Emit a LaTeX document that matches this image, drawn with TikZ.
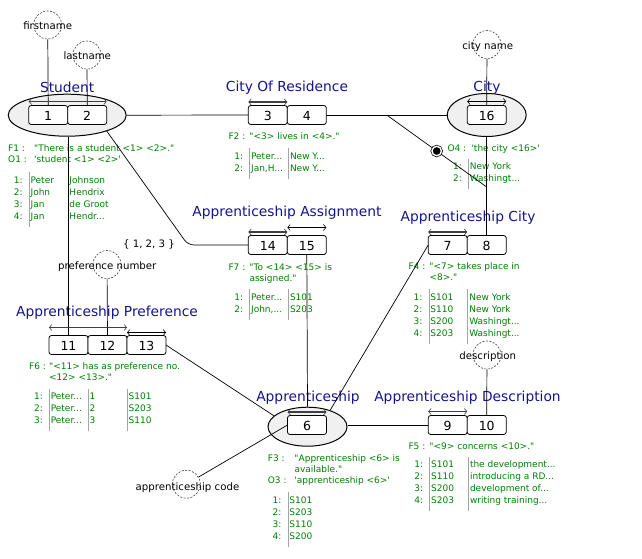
\documentclass[tikz,border=0pt]{standalone}
\usepackage{fontspec}
\usepackage{array}
\usepackage{tikz}
\usetikzlibrary{shapes.geometric}
\usetikzlibrary{positioning}
\usetikzlibrary{arrows.meta}
\newfontfamily\uifont{DejaVu Sans}
\definecolor{typeblue}{RGB}{20,20,140}
\definecolor{factgreen}{RGB}{0,128,0}
\definecolor{entfill}{RGB}{240,240,240}
\definecolor{rulegray}{RGB}{165,165,165}
\newcolumntype{N}{@{}>{\raggedleft\arraybackslash}p{11pt}@{\hspace{6pt}{\color{rulegray}\vrule}\hspace{1.5pt}}}
\newcolumntype{D}{p{37pt}}
\newcolumntype{V}{@{{\color{rulegray}\vrule}\hspace{1.5pt}}}
\newcommand{\rtop}{\rule{0pt}{11pt}}
\newcommand{\rbot}{\rule[-7.5pt]{0pt}{7.5pt}}
\tikzset{
    entnode/.style = {ellipse, draw=black, line width=1pt, fill=entfill, inner sep=0pt},
    rolenode/.style = {rectangle, rounded corners=2.5pt, draw=black, line width=0.8pt, fill=white, minimum width=39pt, minimum height=19pt, inner sep=0pt, outer sep=0pt, text height=11pt, text depth=0pt, font=\uifont\fontsize{12.5}{12.5}\selectfont},
    valnode/.style = {circle, draw=black!75, dash pattern=on 2pt off 1.5pt, line width=0.6pt, minimum size=28pt, inner sep=0pt},
    vallbl/.style = {anchor=base, inner sep=0pt, text=black, font=\uifont\fontsize{10.2}{12}\selectfont},
    o4node/.style = {circle, fill=black, draw=black, double=white, double distance=1.4pt, line width=0.7pt, minimum size=9.5pt, inner sep=0pt},
    namelbl/.style = {anchor=base, inner sep=0pt, text=typeblue, font=\uifont\fontsize{13.8}{16}\selectfont},
    factlbl/.style = {anchor=base west, inner sep=0pt, text=factgreen, font=\uifont\fontsize{9}{11}\selectfont},
    poplbl/.style = {anchor=base west, inner sep=0pt, text=factgreen, font=\uifont\fontsize{9}{12}\selectfont},
    edgen/.style = {-, line width=0.7pt, black},
    edgeu/.style = {{Straight Barb[length=2.5pt,width=6pt,line width=0.6pt]}-{Straight Barb[length=2.5pt,width=6pt,line width=0.6pt]}, line width=0.6pt, black},
    edgeup/.style = {edgeu, line width=1.2pt, black!75}
}

\begin{document}
\begin{tikzpicture}[x=1pt,y=-1pt]
\path[use as bounding box] (0,0) rectangle (642,558);
%
\node[entnode, minimum width=118pt, minimum height=42pt] (student) at (67.2,115.2) {};
\node[entnode, minimum width=79pt, minimum height=43pt] (city) at (486.7,115) {};
\node[entnode, minimum width=79pt, minimum height=39pt] (appr) at (307.5,426.7) {};
%
\node[rolenode] (b1) at (48.2,115) {1};
\node[rolenode, right=0pt of b1] (b2) {2};
\node[rolenode] (b3) at (267.8,115) {3};
\node[rolenode, right=0pt of b3] (b4) {4};
\node[rolenode] (b16) at (486.7,115) {16};
\node[rolenode] (b14) at (267.8,245) {14};
\node[rolenode, right=0pt of b14] (b15) {15};
\node[rolenode] (b7) at (447.7,245) {7};
\node[rolenode, right=0pt of b7] (b8) {8};
\node[rolenode] (b11) at (68.5,345) {11};
\node[rolenode, right=0pt of b11] (b12) {12};
\node[rolenode, right=0pt of b12] (b13) {13};
\node[rolenode] (b6) at (307,425) {6};
\node[rolenode] (b9) at (447.7,425) {9};
\node[rolenode, right=0pt of b9] (b10) {10};
%
\node[valnode] (firstname) at (47.7,25) {};
\node[valnode] (lastname) at (87,55) {};
\node[valnode] (cityname) at (487,44.5) {};
\node[valnode] (prefno) at (107,264.5) {};
\node[valnode] (descr) at (487,355) {};
\node[valnode] (apprcode) at (186.3,484.2) {};
\node[vallbl] (tfirstname) at (47.7,29) {firstname};
\node[vallbl] (tlastname) at (87.3,59.3) {lastname};
\node[vallbl] (tcityname) at (487.7,49.3) {city name};
\node[vallbl] (tprefno) at (107.3,269.3) {preference number};
\node[vallbl] (tdescr) at (487.7,359.3) {description};
\node[vallbl] (tapprcode) at (187.5,490) {apprenticeship code};
\node[vallbl] (valrange) at (149,247) {\{ 1, 2, 3 \}};
%
\node[namelbl] (nstudent) at (67.2,92) {Student};
\node[namelbl] (nresid) at (287,91) {City Of Residence};
\node[namelbl] (ncity) at (487,91) {City};
\node[namelbl] (nassign) at (287,216) {Apprenticeship Assignment};
\node[namelbl] (napcity) at (468,221) {Apprenticeship City};
\node[namelbl] (npref) at (107,316) {Apprenticeship Preference};
\node[namelbl] (nappr) at (308,401) {Apprenticeship};
\node[namelbl] (ndescr) at (467.5,401) {Apprenticeship Description};
%
\node[factlbl] (f1) at (8,151) {\begin{tabular}[t]{@{}p{26pt}@{}l@{}}F1 :&"There is a student <1> <2>."\\O1 :&'student <1> <2>'\end{tabular}};
\node[factlbl] (f2) at (228.3,139.3) {\begin{tabular}[t]{@{}p{21pt}@{}l@{}}F2 :&"<3> lives in <4>."\end{tabular}};
\node[factlbl] (o4) at (447.3,151.7) {\begin{tabular}[t]{@{}p{24pt}@{}l@{}}O4 :&'the city <16>'\end{tabular}};
\node[factlbl] (f7) at (228.3,270) {\begin{tabular}[t]{@{}p{21pt}@{}l@{}}F7 :&"To <14> <15> is\\&assigned."\end{tabular}};
\node[factlbl] (f4) at (408.3,269) {\begin{tabular}[t]{@{}p{21pt}@{}l@{}}F4 :&"<7> takes place in\\&<8>."\end{tabular}};
\node[factlbl] (f6) at (29,369.3) {\begin{tabular}[t]{@{}p{20pt}@{}l@{}}F6 :&"<11> has as preference no.\\&<12> <13>."\end{tabular}};
\node[factlbl] (f3) at (267.7,461.7) {\begin{tabular}[t]{@{}p{26.6pt}@{}l@{}}F3 :&"Apprenticeship <6> is\\&available."\\O3 :&'apprenticeship <6>'\end{tabular}};
\node[factlbl] (f5) at (408.3,449.3) {\begin{tabular}[t]{@{}p{21pt}@{}l@{}}F5 :&"<9> concerns <10>."\end{tabular}};
%
\node[poplbl] (pop1) at (11.5,183) {\begin{tabular}[t]{N D V l@{}}\rtop 1:&Peter&Johnson\\2:&John&Hendrix\\3:&Jan&de Groot\\4:&Jan&Hendr...\rbot\end{tabular}};
\node[poplbl] (pop2) at (232,159.3) {\begin{tabular}[t]{N D V l@{}}\rtop 1:&Peter...&New Y...\\2:&Jan,H...&New Y...\rbot\end{tabular}};
\node[poplbl] (popo4) at (450.7,169.5) {\begin{tabular}[t]{N l@{}}\rtop 1:&New York\\2:&Washingt...\rbot\end{tabular}};
\node[poplbl] (pop7) at (232,300) {\begin{tabular}[t]{N D V l@{}}\rtop 1:&Peter...&S101\\2:&John,...&S203\rbot\end{tabular}};
\node[poplbl] (pop4) at (411.3,300) {\begin{tabular}[t]{N D V l@{}}\rtop 1:&S101&New York\\2:&S110&New York\\3:&S200&Washingt...\\4:&S203&Washingt...\rbot\end{tabular}};
\node[poplbl] (pop6) at (31.7,399.5) {\begin{tabular}[t]{N D V D V l@{}}\rtop 1:&Peter...&1&S101\\2:&Peter...&2&S203\\3:&Peter...&3&S110\rbot\end{tabular}};
\node[poplbl] (pop3) at (270.3,503.3) {\begin{tabular}[t]{N l@{}}\rtop 1:&S101\\2:&S203\\3:&S110\\4:&S200\rbot\end{tabular}};
\node[poplbl] (pop5) at (412,467.7) {\begin{tabular}[t]{N D V l@{}}\rtop 1:&S101&the development...\\2:&S110&introducing a RD...\\3:&S200&development of...\\4:&S203&writing training...\rbot\end{tabular}};
%
\coordinate (bend14) at (188,245);
\coordinate (o4a) at (386.7,115);
\coordinate (o4b) at (486.7,187);
\draw[edgen] (firstname) -- (b1.north);
\draw[edgen] (lastname) -- (b2.north);
\draw[edgen] (cityname) -- (b16.north);
\draw[edgen] (prefno) -- (b12.north);
\draw[edgen] (descr) -- (b10.north);
\draw[edgen] (apprcode) -- (b6.west);
\draw[edgen] (student.east) -- (b3.west);
\draw[edgen] (b4.east) -- (city.west);
\draw[edgen] (b11.north |- student.south) -- (b11.north);
\draw[edgen, rounded corners=6pt] (student.-22) -- (bend14) -- (b14.west);
\draw[edgen] (city.south) -- (b8.north);
\draw[edgen] (b15.south) -- (appr.north);
\draw[edgen] (b7.west) -- (appr.36);
\draw[edgen] (b13.east) -- (appr.162);
\draw[edgen] (b9.west -| appr.east) -- (b9.west);
\node[o4node] (o4mark) at (436.7,151) {};
\draw[edgen] (o4a) -- (o4mark) -- (o4b);
%
\draw[edgeup] ([yshift=4pt]b1.north west) -- ([yshift=4pt]b2.north east);
\draw[edgeup] ([yshift=3.5pt]b3.north west) -- ([yshift=3.5pt]b3.north east);
\draw[edgeu] ([yshift=4pt]b16.north west) -- ([yshift=4pt]b16.north east);
\draw[edgeup] ([yshift=3.5pt]b14.north west) -- ([yshift=3.5pt]b14.north east);
\draw[edgeu] ([yshift=8pt]b15.north west) -- ([yshift=8pt]b15.north east);
\draw[edgeup] ([yshift=3.5pt]b7.north west) -- ([yshift=3.5pt]b7.north east);
\draw[edgeup] ([yshift=8pt]b11.north west) -- ([yshift=8pt]b12.north east);
\draw[edgeu] ([yshift=3pt]b13.north west) -- ([yshift=3pt]b13.north east);
\draw[edgeup] ([yshift=3.5pt]b6.north west) -- ([yshift=3.5pt]b6.north east);
\draw[edgeup] ([yshift=4pt]b9.north west) -- ([yshift=4pt]b9.north east);

\end{tikzpicture}
\end{document}
